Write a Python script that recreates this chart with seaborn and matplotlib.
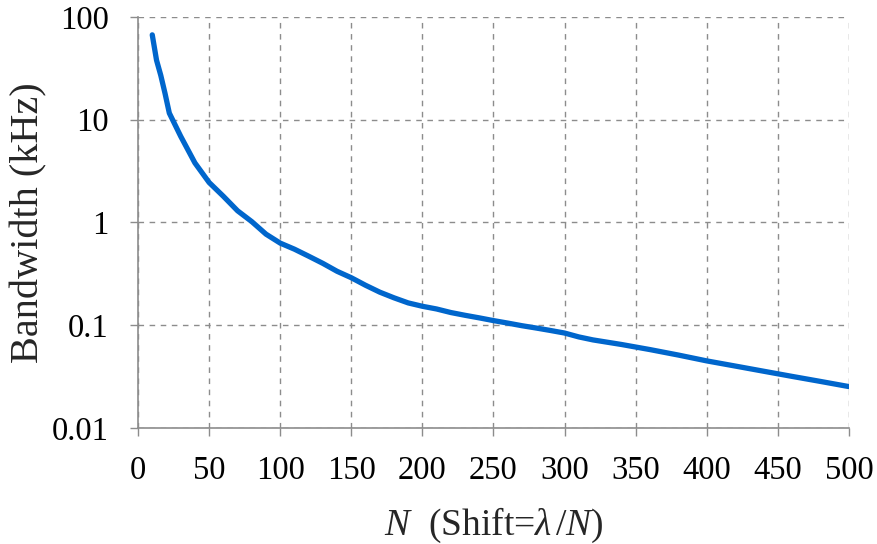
import matplotlib
matplotlib.use("Agg")
import matplotlib.pyplot as plt
import seaborn as sns
import pandas as pd
from matplotlib.ticker import FixedLocator, FixedFormatter

# Data
N_values = [10, 13, 16, 19, 22, 30, 40, 50, 60, 70, 80, 90, 100, 110, 120, 130,
            140, 150, 160, 170, 180, 190, 200, 210, 220, 230, 240, 250, 260, 270,
            280, 290, 300, 310, 320, 340, 360, 380, 400, 420, 440, 460, 480, 500]
bandwidth_khz = [67, 38, 27, 18, 11.6, 6.9, 3.8, 2.45, 1.8, 1.3, 1.02, 0.77, 0.63,
                 0.55, 0.47, 0.40, 0.335, 0.29, 0.245, 0.21, 0.185, 0.165, 0.153,
                 0.144, 0.133, 0.125, 0.118, 0.111, 0.105, 0.099, 0.094, 0.089,
                 0.084, 0.077, 0.072, 0.065, 0.058, 0.0513, 0.045, 0.0401, 0.0357,
                 0.0318, 0.0284, 0.0253]
x_ticks = [0, 50, 100, 150, 200, 250, 300, 350, 400, 450, 500]
y_ticks = [0.01, 0.1, 1, 10, 100]
y_tick_labels = ["0.01", "0.1", "1", "10", "100"]

sns.set_theme(style="white")
plt.rcParams["font.family"] = ["Liberation Serif", "DejaVu Serif"]
plt.rcParams["mathtext.fontset"] = "custom"
plt.rcParams["mathtext.rm"] = "Liberation Serif"
plt.rcParams["mathtext.it"] = "Liberation Serif:italic"

df = pd.DataFrame({"N": N_values, "BW": bandwidth_khz})

fig = plt.figure(figsize=(8.77, 5.44), dpi=100)
ax = fig.add_axes([0.1574, 0.2132, 0.8106, 0.7556])

sns.lineplot(data=df, x="N", y="BW", ax=ax, color="#0066CC", linewidth=3.8)
ax.set_yscale("log")
ax.set_xlim(0, 500)
ax.set_ylim(0.01, 100)

ax.xaxis.set_major_locator(FixedLocator(x_ticks))
ax.set_xticklabels([str(t) for t in x_ticks])
ax.yaxis.set_major_locator(FixedLocator(y_ticks))
ax.yaxis.set_major_formatter(FixedFormatter(y_tick_labels))
ax.yaxis.set_minor_locator(FixedLocator([]))

ax.grid(True, which="major", color="#8c8c8c", linestyle=(0, (4, 4)), linewidth=1.0)
for s in ["top", "right"]:
    ax.spines[s].set_visible(False)
for s in ["left", "bottom"]:
    ax.spines[s].set_color("#8c8c8c")
    ax.spines[s].set_linewidth(1.2)

ax.tick_params(axis="both", which="major", labelsize=23.5, colors="#8c8c8c",
               labelcolor="black", length=6, width=1.0, direction="out")
ax.tick_params(axis="x", pad=14, bottom=True)
ax.tick_params(axis="y", pad=15, left=True)

ax.set_xlabel(r"$N$  (Shift=$\lambda\,$/$N$)", fontsize=27, labelpad=14)
ax.set_ylabel("Bandwidth (kHz)", fontsize=29, labelpad=3)

fig.savefig("out.png", dpi=100)
